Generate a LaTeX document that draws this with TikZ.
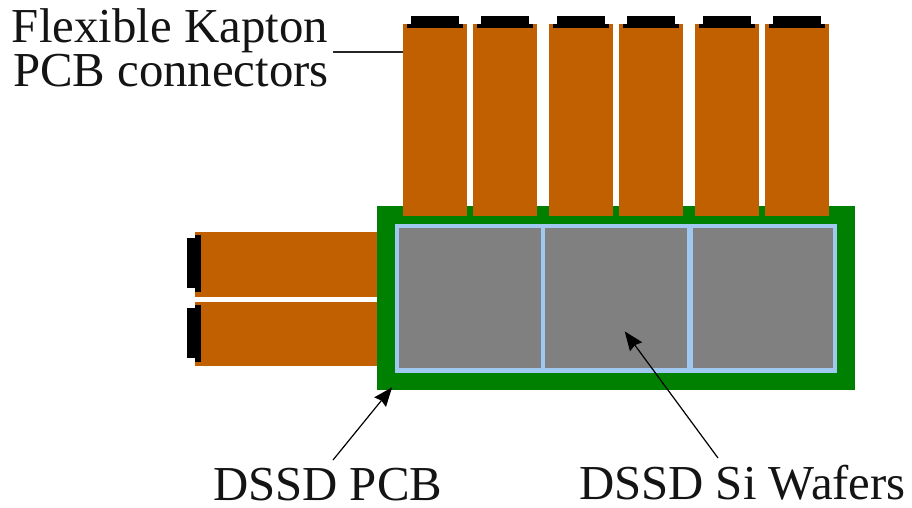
\documentclass[tikz,border=0pt]{standalone}
\usepackage{fontspec}
\setmainfont{Liberation Serif}
\usetikzlibrary{arrows.meta}
\definecolor{kapton}{RGB}{192,96,0}
\definecolor{pcbgreen}{RGB}{0,128,0}
\definecolor{wafergray}{RGB}{128,128,128}
\definecolor{framblue}{RGB}{160,200,240}
\tikzset{
  plate/.style={rectangle,draw=none,inner sep=0pt,outer sep=0pt},
  kaptonstrip/.style={plate,fill=kapton},
  pcbplate/.style={plate,fill=pcbgreen},
  waferframe/.style={plate,fill=framblue},
  wafercell/.style={plate,fill=wafergray},
  plug/.style={plate,fill=black},
  lbl/.style={inner sep=0pt,outer sep=0pt,anchor=base west,font=\fontsize{48.8}{52}\selectfont,text=black!92},
  leader/.style={draw=black!85,line width=1.3pt},
  pointer/.style={draw=black,line width=1.2pt,-{Stealth[length=19pt,width=15pt,inset=2pt]},shorten >=3pt}
}
\newcommand{\pbox}[6]{\node[#2,minimum width={(#5)-(#3)},minimum height={(#6)-(#4)}] (#1) at ({((#3)+(#5))/2},{((#4)+(#6))/2}) {};}
\begin{document}
\begin{tikzpicture}[x=1pt,y=-1pt]
\useasboundingbox (0,0) rectangle (912,507);
% PCB and wafers
\pbox{pcb}{pcbplate}{377}{206}{855}{390}
\pbox{frame}{waferframe}{395}{224}{837}{373}
\pbox{cellA}{wafercell}{399}{228}{541}{368}
\pbox{cellB}{wafercell}{545}{228}{687}{368}
\pbox{cellC}{wafercell}{693}{228}{833}{368}
% top strips
\foreach \n/\xa in {1/403,2/473,3/549,4/619,5/695,6/765}{
  \pgfmathtruncatemacro{\xb}{\xa+64}
  \pgfmathtruncatemacro{\xc}{\xa+4}
  \pgfmathtruncatemacro{\xd}{\xa+60}
  \pgfmathtruncatemacro{\xe}{\xa+8}
  \pgfmathtruncatemacro{\xf}{\xa+56}
  \pbox{top\n}{kaptonstrip}{\xa}{24}{\xb}{216}
  \pbox{topplugA\n}{plug}{\xc}{24}{\xd}{28}
  \pbox{topplugB\n}{plug}{\xe}{16}{\xf}{24}
}
% left strips
\pbox{left1}{kaptonstrip}{195}{232}{377}{297}
\pbox{left2}{kaptonstrip}{195}{302}{377}{366}
\pbox{plugA1}{plug}{195}{235}{201}{292}
\pbox{plugB1}{plug}{187}{238}{195}{288}
\pbox{plugA2}{plug}{195}{305}{201}{362}
\pbox{plugB2}{plug}{187}{308}{195}{358}
% labels
\node[lbl] (kaptonA) at (12,42) {Flexible Kapton};
\node[lbl] (kaptonB) at (13,86) {PCB connectors};
\node[lbl] (pcblabel) at (213,500) {DSSD PCB};
\node[lbl] (waferlabel) at (579,499) {DSSD Si Wafers};
% connectors
\coordinate (leadstart) at (333,52);
\draw[leader] (leadstart) -- (top1.west |- leadstart);
\coordinate (pcbtail) at (333,460);
\coordinate (pcbtip) at (394,385);
\draw[pointer] (pcbtail) -- (pcbtip);
\coordinate (wafertail) at (718,458);
\coordinate (wafertip) at (623,329);
\draw[pointer] (wafertail) -- (wafertip);
\end{tikzpicture}
\end{document}
